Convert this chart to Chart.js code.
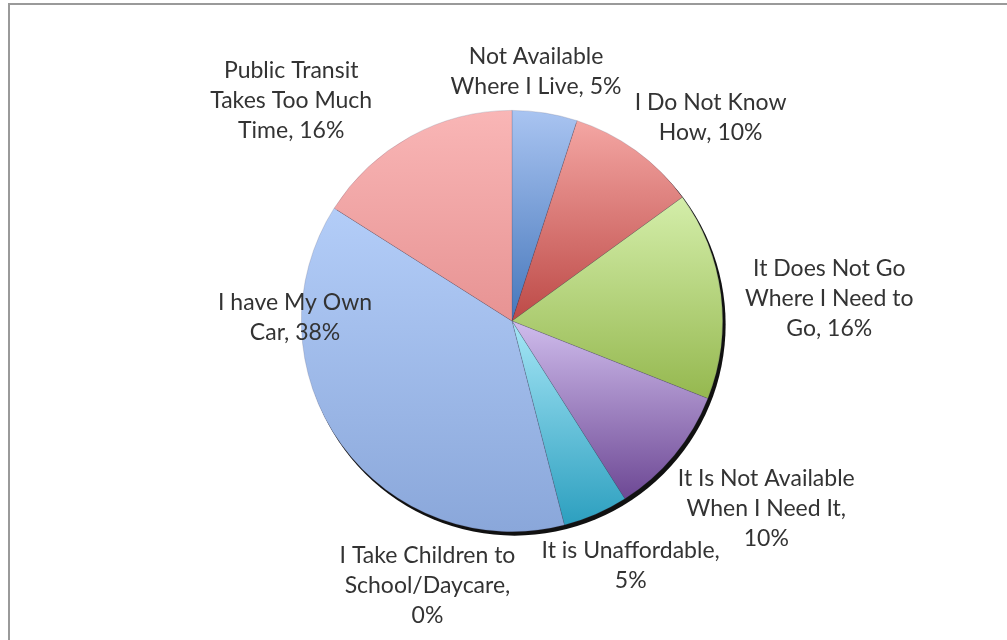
<!DOCTYPE html>
<html>
<head>
<meta charset="utf-8">
<script src="https://cdn.jsdelivr.net/npm/chart.js@4"></script>
<style>
  html, body { margin: 0; padding: 0; background: #fff; }
  #wrap { position: relative; width: 1007px; height: 640px; overflow: hidden; }
</style>
</head>
<body>
<div id="wrap"><canvas id="reasons" width="1007" height="640"></canvas></div>
<script>
// Reasons for not using public transit (share of responses, %)
const categories = [
    "Not Available\nWhere I Live",
    "I Do Not Know\nHow",
    "It Does Not Go\nWhere I Need to\nGo",
    "It Is Not Available\nWhen I Need It",
    "It is Unaffordable",
    "I Take Children to\nSchool/Daycare",
    "I have My Own\nCar",
    "Public Transit\nTakes Too Much\nTime"
];
const values = [5, 10, 16, 10, 5, 0, 38, 16];

// percent goes on its own line for these labels
const pctOwnLine = [false, false, false, true, true, true, false, false];

// gradient stops per slice, light at the top, darker toward the bottom
const colorTop = ["#a9c4f1", "#f4a6a3", "#d4eeaa", "#cfbcec", "#a6e6f6", "#fbc08a", "#b3cdf8", "#f9b6b6"];
const colorBottom = ["#4677bb", "#bd4a47", "#95b84f", "#6d4894", "#2c9fbf", "#f79646", "#8aa7da", "#e79393"];

// label anchor: angle from 12 o'clock (deg, clockwise) and distance in radii
const labelPlaces = [
    [5.5, 1.19],
    [44.3, 1.35],
    [86.0, 1.51],
    [126.4, 1.50],
    [154.1, 1.29],
    [197.7, 1.32],
    [270.8, 1.03],
    [314.9, 1.48]
];

const LABEL_FONT = "23px Lato, 'Open Sans', sans-serif";
const LABEL_COLOR = "#333333";
const LINE_HEIGHT = 30;

function sliceGradient(context) {
    const chart = context.chart;
    const i = context.dataIndex;
    const area = chart.chartArea;
    if (!area) {
        return colorBottom[i];
    }
    const cx = (area.left + area.right) / 2;
    const cy = (area.top + area.bottom) / 2;
    const r = Math.min(area.width, area.height) / 2;
    const total = values.reduce((a, b) => a + b, 0);
    let before = 0;
    for (let k = 0; k < i; k++) {
        before += values[k];
    }
    const a0 = before / total * Math.PI * 2;
    const a1 = (before + values[i]) / total * Math.PI * 2;
    let ys = [cy, cy - r * Math.cos(a0), cy - r * Math.cos(a1)];
    if (a0 < Math.PI && a1 > Math.PI) {
        ys.push(cy + r);
    }
    let y0 = Math.min(...ys);
    let y1 = Math.max(...ys);
    if (y1 - y0 < 1) {
        y1 = y0 + 1;
    }
    const g = chart.ctx.createLinearGradient(0, y0, 0, y1);
    g.addColorStop(0, colorTop[i]);
    g.addColorStop(1, colorBottom[i]);
    return g;
}

// frame around the chart
const framePlugin = {
    id: "frame",
    beforeDraw(chart) {
        const ctx = chart.ctx;
        ctx.save();
        ctx.strokeStyle = "#9a9a9a";
        ctx.lineWidth = 2;
        ctx.strokeRect(9, 4, 1100, 1000);
        ctx.restore();
    }
};

// dark drop shadow under the pie
const shadowPlugin = {
    id: "pieShadow",
    beforeDatasetsDraw(chart) {
        const arc = chart.getDatasetMeta(0).data[0];
        if (!arc) return;
        const ctx = chart.ctx;
        ctx.save();
        ctx.fillStyle = "#111";
        ctx.beginPath();
        ctx.arc(arc.x + 2.5, arc.y + 3.5, arc.outerRadius + 0.5, 0, Math.PI * 2);
        ctx.fill();
        ctx.restore();
    }
};

// category name + percentage next to each slice
const labelPlugin = {
    id: "sliceLabels",
    afterDatasetsDraw(chart) {
        const arc = chart.getDatasetMeta(0).data[0];
        if (!arc) return;
        const ctx = chart.ctx;
        const cx = arc.x, cy = arc.y, r = arc.outerRadius;
        ctx.save();
        ctx.font = LABEL_FONT;
        ctx.fillStyle = LABEL_COLOR;
        ctx.textAlign = "center";
        ctx.textBaseline = "middle";
        categories.forEach((name, i) => {
            const pct = values[i] + "%";
            const text = pctOwnLine[i] ? name + ",\n" + pct : name + ", " + pct;
            const lines = text.split("\n");
            const theta = labelPlaces[i][0] * Math.PI / 180;
            const d = labelPlaces[i][1] * r;
            const x = cx + d * Math.sin(theta);
            const y = cy - d * Math.cos(theta);
            const startY = y - (lines.length - 1) * LINE_HEIGHT / 2;
            lines.forEach((line, j) => {
                ctx.fillText(line, x, startY + j * LINE_HEIGHT);
            });
        });
        ctx.restore();
    }
};

new Chart(document.getElementById("reasons"), {
    type: "pie",
    data: {
        labels: categories,
        datasets: [{
            data: values,
            backgroundColor: sliceGradient,
            borderColor: "rgba(70, 70, 100, 0.25)",
            borderWidth: 0.75
        }]
    },
    options: {
        responsive: false,
        animation: false,
        devicePixelRatio: 1,
        layout: {
            padding: { left: 301, right: 284, top: 110, bottom: 108 }
        },
        plugins: {
            legend: { display: false },
            tooltip: { enabled: false }
        }
    },
    plugins: [framePlugin, shadowPlugin, labelPlugin]
});
</script>
</body>
</html>
